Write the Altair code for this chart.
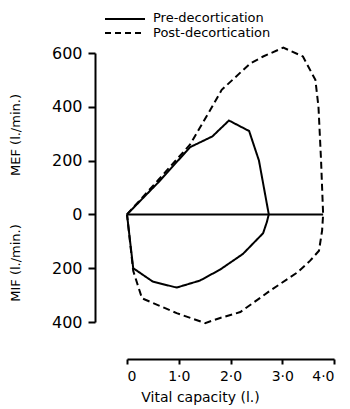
import altair as alt
import pandas as pd

# Pre-decortication flow-volume loop (solid)
pre_x = [0, 0.60, 1.22, 1.65, 1.97, 2.36, 2.55, 2.74, 2.70, 2.63, 2.24, 1.80, 1.41, 0.96, 0.50, 0.12, 0]
pre_y = [0, 118, 250, 290, 349, 310, 200, 0, -30, -70, -147, -205, -246, -272, -250, -200, 0]

# Post-decortication flow-volume loop (dashed)
post_x = [0, 0.60, 1.22, 1.60, 1.83, 2.38, 2.63, 3.02, 3.40, 3.64, 3.70, 3.75, 3.79,
          3.77, 3.71, 3.54, 3.29, 2.77, 2.19, 1.80, 1.51, 0.96, 0.29, 0.12, 0]
post_y = [0, 127, 260, 385, 463, 561, 587, 620, 587, 500, 400, 200, 0,
          -60, -135, -172, -216, -283, -363, -385, -404, -367, -312, -210, 0]

# Zero-flow line
zero_x = [0, 3.79]
zero_y = [0, 0]

x_ticks = [0, 1, 2, 3, 4]
y_ticks = [-400, -200, 0, 200, 400, 600]

rows = []
for i, (a, b) in enumerate(zip(pre_x, pre_y)):
    rows.append({"series": "Pre", "i": i, "x": a, "y": b})
for i, (a, b) in enumerate(zip(post_x, post_y)):
    rows.append({"series": "Post", "i": i, "x": a, "y": b})
for i, (a, b) in enumerate(zip(zero_x, zero_y)):
    rows.append({"series": "Zero", "i": i, "x": a, "y": b})
df = pd.DataFrame(rows)

FONT = "DejaVu Sans"

xscale = alt.Scale(domain=[0, 4], nice=False, zero=False)
yscale = alt.Scale(domain=[-400, 600], nice=False, zero=False)

lines = alt.Chart(df).mark_line(color="black", strokeWidth=2).encode(
    x=alt.X("x:Q", scale=xscale, axis=alt.Axis(
        values=x_ticks,
        labelExpr="datum.value == 0 ? '0' : replace(format(datum.value, '.1f'), '.', '·')",
        offset=37, tickSize=5, tickWidth=2, domainWidth=2,
        domainColor="black", tickColor="black", labelColor="black",
        labelFont=FONT, labelFontSize=14, labelPadding=5,
        grid=False, title="Vital capacity (l.)", titleFont=FONT,
        titleFontSize=14, titleFontWeight="normal", titleColor="black",
        titleX=73, titleY=38, titleAlign="center", titleBaseline="middle")),
    y=alt.Y("y:Q", scale=yscale, axis=alt.Axis(
        values=y_ticks, labelExpr="'' + abs(datum.value)",
        offset=32, tickSize=7, tickWidth=2, domainWidth=2,
        domainColor="black", tickColor="black", labelColor="black",
        labelFont=FONT, labelFontSize=16, labelPadding=6,
        grid=False, title=None)),
    order="i:Q",
    detail="series:N",
    strokeDash=alt.StrokeDash("series:N", scale=alt.Scale(
        domain=["Pre", "Post", "Zero"], range=[[1, 0], [7, 4], [1, 0]]), legend=None),
)

one = alt.Data(values=[{}])

def label(text, x, y, angle=0, size=13, align="center"):
    return alt.Chart(one).mark_text(
        text=text, font=FONT, fontSize=size, color="black", angle=angle,
        align=align, baseline="middle").encode(x=alt.value(x), y=alt.value(y))

mef = label("MEF (l./min.)", -111, 82, angle=270)
mif = label("MIF (l./min.)", -111, 210, angle=270)

leg_pre_line = alt.Chart(one).mark_rule(color="black", strokeWidth=1.8).encode(
    x=alt.value(-22), x2=alt.value(18), y=alt.value(-34))
leg_post_line = alt.Chart(one).mark_rule(color="black", strokeWidth=1.8, strokeDash=[6, 4]).encode(
    x=alt.value(-22), x2=alt.value(15), y=alt.value(-20))
leg_pre_text = label("Pre-decortication", 26, -35, size=13, align="left")
leg_post_text = label("Post-decortication", 26, -20, size=13, align="left")

chart = alt.layer(
    lines, mef, mif, leg_pre_line, leg_post_line, leg_pre_text, leg_post_text
).properties(
    width=207, height=269,
    autosize=alt.AutoSizeParams(type="none"),
    padding={"left": 127, "top": 53, "right": 16, "bottom": 87},
    background="white",
).configure_view(stroke=None)

chart.save("out.html", embed_options={"renderer": "svg", "actions": False})
